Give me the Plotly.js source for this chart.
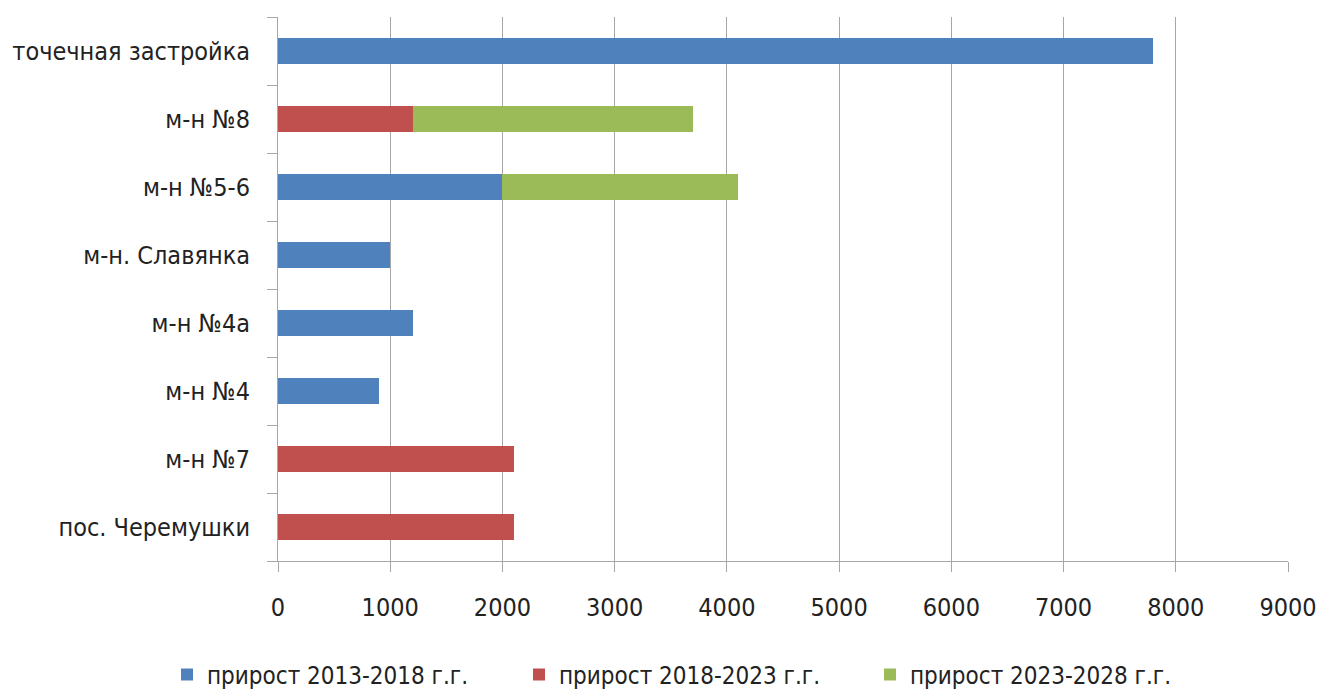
<!DOCTYPE html>
<html><head><meta charset="utf-8">
<script src="https://cdn.plot.ly/plotly-3.0.1.min.js"></script>
<style>html,body{margin:0;padding:0;background:#fff}#chart{width:1321px;height:693px}</style>
</head><body><div id="chart"></div>
<script>
const categories = ["пос. Черемушки","м-н №7","м-н №4","м-н №4а","м-н. Славянка","м-н №5-6","м-н №8","точечная застройка"];
const seriesNames = ["прирост 2013-2018 г.г.","прирост 2018-2023 г.г.","прирост 2023-2028 г.г."];
const growth2013_2018 = [null,null,900,1200,1000,2000,null,7800];
const growth2018_2023 = [2100,2100,null,null,null,null,1200,null];
const growth2023_2028 = [null,null,null,null,null,2100,2500,null];
const xTicks = [0,1000,2000,3000,4000,5000,6000,7000,8000,9000];
const colors = ["#4F81BD","#C0504D","#9BBB59"];
const values = [growth2013_2018, growth2018_2023, growth2023_2028];
const FONT = "'DejaVu Sans Condensed', 'Liberation Sans Narrow', sans-serif";
const legendIds = ['legend','legend2','legend3'];
const legendX = [167, 519, 870];
const traces = values.map((v,i)=>({
  type:'bar', orientation:'h', y:categories, x:v, name:seriesNames[i],
  marker:{color:colors[i], line:{width:0}}, width:0.38, hoverinfo:'x+y',
  legend:legendIds[i]
}));
const layout = {
  barmode:'stack', width:1321, height:693,
  margin:{l:278,r:33,t:17,b:132},
  paper_bgcolor:'#fff', plot_bgcolor:'#fff',
  font:{family:FONT, size:25, color:'#222'},
  xaxis:{range:[0,9000], tickvals:xTicks, ticktext:xTicks.map(String),
    showgrid:true, gridcolor:'#a6a6a6', gridwidth:1, zeroline:false,
    showline:true, linecolor:'#a6a6a6', linewidth:1,
    ticks:'outside', ticklen:10, tickcolor:'#a6a6a6', ticklabelstandoff:14,
    tickfont:{family:FONT,size:25,color:'#222'}},
  yaxis:{type:'category', categoryorder:'array', categoryarray:categories,
    showline:true, linecolor:'#a6a6a6', linewidth:1, showgrid:false,
    ticks:'outside', tickson:'boundaries', ticklen:10, tickcolor:'#a6a6a6',
    ticklabelstandoff:22,
    tickfont:{family:FONT,size:25,color:'#222'}, automargin:false},
  showlegend:true
};
legendIds.forEach((id,i)=>{
  layout[id] = {orientation:'h', xref:'container', yref:'container',
    x:legendX[i]/1321, y:0.026, xanchor:'left', yanchor:'middle',
    font:{family:FONT,size:24,color:'#222'}, itemclick:false, bgcolor:'rgba(0,0,0,0)'};
});
Plotly.newPlot('chart', traces, layout, {displayModeBar:false, staticPlot:true});
</script></body></html>
